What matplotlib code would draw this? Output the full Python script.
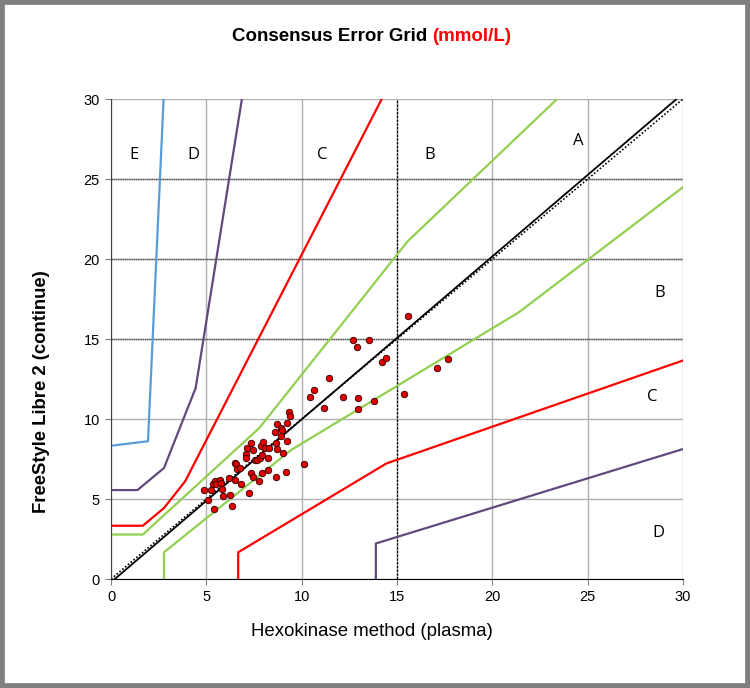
import matplotlib
matplotlib.use('Agg')
import matplotlib.pyplot as plt
from matplotlib.patches import Rectangle

plt.rcParams['font.family'] = ['Liberation Sans', 'DejaVu Sans']

# measured pairs (mmol/L): reference method vs sensor
hexo = [4.86, 5.10, 5.26, 5.37, 5.40, 5.47, 5.51, 5.73, 5.75, 5.80, 5.89, 6.17,
        6.24, 6.33, 6.52, 6.52, 6.54, 6.59, 6.75, 6.80, 7.08, 7.09, 7.13, 7.24,
        7.34, 7.36, 7.46, 7.46, 7.54, 7.64, 7.74, 7.81, 7.88, 7.93, 7.92, 7.95,
        8.09, 8.21, 8.21, 8.27, 8.58, 8.67, 8.67, 8.70, 8.72, 8.91, 8.97, 8.93,
        9.04, 9.18, 9.21, 9.23, 9.35, 9.37, 10.10, 10.42, 10.65, 11.19, 11.43,
        12.18, 12.69, 12.88, 12.95, 12.97, 13.53, 13.79, 14.23, 14.44, 15.38,
        15.59, 17.11, 17.69]
libre = [5.58, 4.93, 5.56, 5.96, 4.35, 6.13, 5.96, 6.21, 6.00, 5.65, 5.17, 6.29,
         5.23, 4.58, 6.21, 7.27, 7.17, 6.88, 6.96, 5.94, 7.81, 7.56, 8.19, 5.37,
         6.60, 8.50, 8.06, 6.35, 7.44, 7.46, 6.15, 7.56, 8.31, 7.77, 6.60, 8.56,
         8.19, 7.54, 6.81, 8.19, 9.21, 8.48, 6.38, 8.15, 9.69, 9.46, 9.29, 8.92,
         7.88, 6.67, 9.73, 8.65, 10.44, 10.19, 7.19, 11.38, 11.79, 10.67, 12.56,
         11.38, 14.94, 14.50, 11.31, 10.65, 14.96, 11.10, 13.58, 13.83, 11.56,
         16.46, 13.17, 13.77]

# consensus (Parkes) zone boundaries, mmol/L
e_up_x = [0, 1.94, 2.78]
e_up_y = [8.33, 8.61, 30.56]
d_up_x = [0, 1.39, 2.78, 4.44, 6.94]
d_up_y = [5.56, 5.56, 6.94, 11.94, 30.56]
c_up_x = [0, 1.67, 2.78, 3.89, 14.44]
c_up_y = [3.33, 3.33, 4.44, 6.11, 30.56]
b_up_x = [0, 1.67, 7.78, 15.56, 23.89]
b_up_y = [2.78, 2.78, 9.44, 21.11, 30.56]
b_lo_x = [2.78, 2.78, 9.44, 21.39, 30.56]
b_lo_y = [0, 1.67, 8.06, 16.67, 25.0]
c_lo_x = [6.67, 6.67, 14.44, 30.56]
c_lo_y = [0, 1.67, 7.22, 13.89]
d_lo_x = [13.89, 13.89, 30.56]
d_lo_y = [0, 2.22, 8.33]

# fitted line and identity
fit_x = [0.2, 29.66]
fit_y = [0, 30]
ident = [0, 30]

zone_labels = ['E', 'D', 'C', 'B', 'A', 'B', 'C', 'D']
zone_lab_x = [1.21, 4.3, 11.1, 16.7, 24.5, 28.8, 28.4, 28.7]
zone_lab_y = [26.5, 26.5, 26.5, 26.5, 27.4, 17.9, 11.4, 2.9]

fig = plt.figure(figsize=(7.5, 6.88), dpi=100)
ax = fig.add_axes([0.148, 0.1584, 0.7627, 0.6977])

ax.set_xlim(0, 30)
ax.set_ylim(0, 30)
ax.set_xticks(range(0, 31, 5))
ax.set_yticks(range(0, 31, 5))
ax.grid(True, color='#b0b0b0', lw=1.0)
ax.axvline(15, color='black', lw=0.9, ls=(0, (2, 1)), zorder=1)
for yy in [15, 20, 25]:
    ax.axhline(yy, color='#505050', lw=1.0, ls=(0, (1, 0.6)), zorder=1)
ax.set_axisbelow(True)

for s in ['top', 'right']:
    ax.spines[s].set_visible(False)
ax.spines['left'].set_color('#404040')
ax.spines['bottom'].set_color('black')
ax.tick_params(direction='out', length=4, color='#808080', labelsize=10.5, pad=4)

ax.plot(e_up_x, e_up_y, color='#5b9bd5', lw=1.6)
ax.plot(d_up_x, d_up_y, color='#604a7b', lw=1.6)
ax.plot(d_lo_x, d_lo_y, color='#604a7b', lw=1.6)
ax.plot(c_up_x, c_up_y, color='#ff0000', lw=1.6)
ax.plot(c_lo_x, c_lo_y, color='#ff0000', lw=1.6)
ax.plot(b_up_x, b_up_y, color='#92d050', lw=1.6)
ax.plot(b_lo_x, b_lo_y, color='#92d050', lw=1.6)

ax.plot(ident, ident, color='black', lw=1.2, ls=(0, (1, 1.2)))
ax.plot(fit_x, fit_y, color='black', lw=1.3)

ax.scatter(hexo, libre, s=22, color='#e00000', edgecolor='#300000', lw=0.6, zorder=5)

for lab, x, y in zip(zone_labels, zone_lab_x, zone_lab_y):
    ax.text(x, y, lab, ha='center', va='center', fontsize=12,
            family=['Open Sans', 'DejaVu Sans'])

ax.set_xlabel('Hexokinase method (plasma)', fontsize=13.4)
ax.xaxis.label.set_va('center')
ax.xaxis.set_label_coords(0.456, -0.110)
ax.set_ylabel('FreeStyle Libre 2 (continue)', fontsize=13.3, fontweight='bold')
ax.yaxis.label.set_va('center')
ax.yaxis.set_label_coords(-0.122, 0.39)

t1 = fig.text(0.443, 0.9475, 'Consensus Error Grid ', ha='center', va='center',
              fontsize=13.5, fontweight='bold')
ax.annotate('(mmol/L)', xy=(1, 0), xycoords=t1, ha='left', va='bottom',
            fontsize=13.5, fontweight='bold', color='red', annotation_clip=False)

fig.patches.append(Rectangle((0, 0), 1, 1, transform=fig.transFigure, fill=False,
                             edgecolor='#7f7f7f', lw=7))

fig.savefig('out.png', dpi=100)
